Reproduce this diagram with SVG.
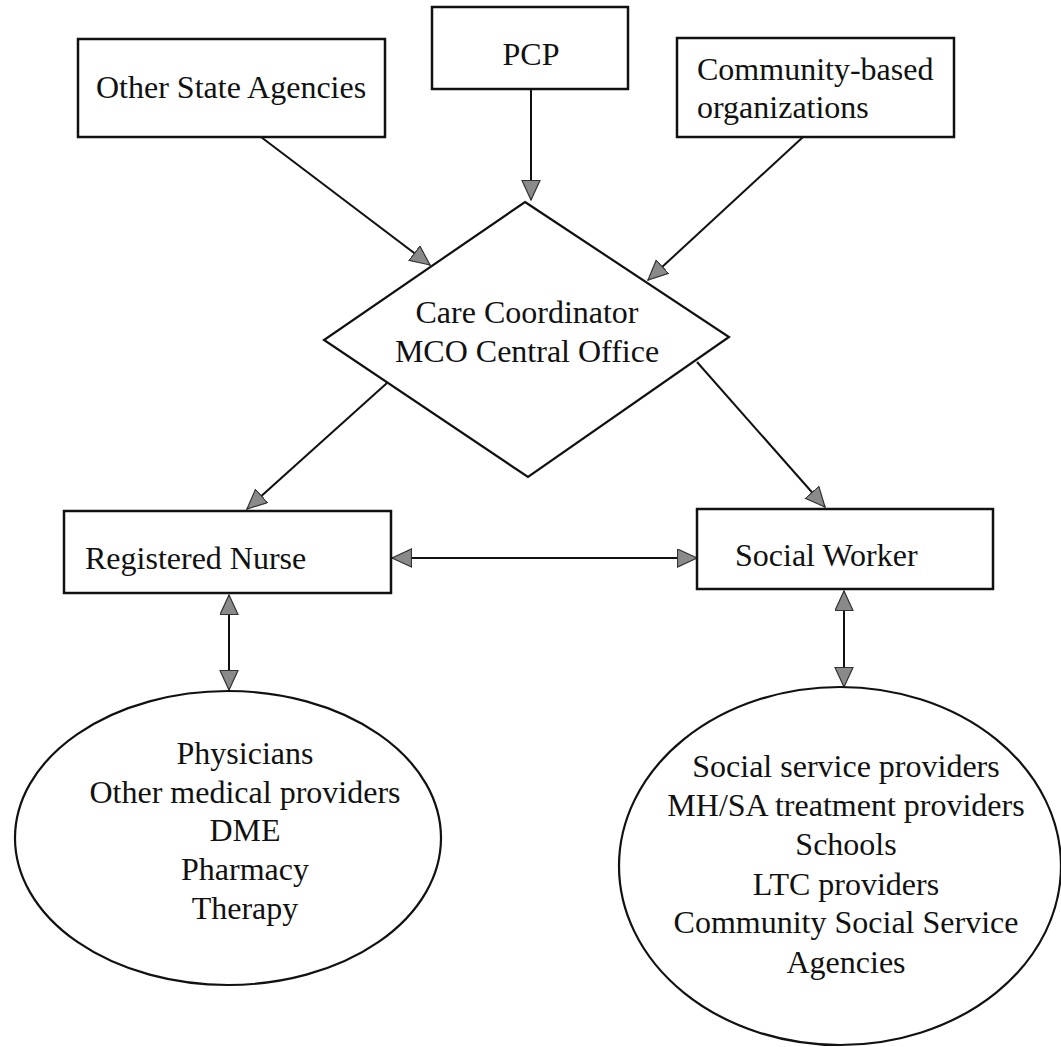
<svg xmlns="http://www.w3.org/2000/svg" width="1061" height="1047" viewBox="0 0 1061 1047">
<style>
.box{fill:#fff;stroke:#111;stroke-width:2.5}
.shape{fill:#fff;stroke:#111;stroke-width:2.2}
.t{font-family:"Liberation Serif","Times New Roman",serif;font-size:32px;fill:#111}
.c{text-anchor:middle}
.edge{stroke:#111;stroke-width:2;fill:none}
</style>
<defs>
<marker id="ah" markerUnits="userSpaceOnUse" markerWidth="22" markerHeight="21" refX="20" refY="9.5" orient="auto-start-reverse">
<path d="M0.5,0.5 L20,9.5 L0.5,18.5 z" fill="#8a8a8a" stroke="#333" stroke-width="1.2"/>
</marker>
</defs>
<rect width="1061" height="1047" fill="#fff"/>
<g id="connectors">
<line class="edge" x1="261" y1="137" x2="430" y2="265" marker-end="url(#ah)"/>
<line class="edge" x1="531" y1="89" x2="531" y2="200" marker-end="url(#ah)"/>
<line class="edge" x1="803" y1="137" x2="648" y2="280" marker-end="url(#ah)"/>
<line class="edge" x1="387" y1="383" x2="247" y2="509" marker-end="url(#ah)"/>
<line class="edge" x1="697" y1="362" x2="825" y2="507" marker-end="url(#ah)"/>
<line class="edge" x1="392" y1="558" x2="697" y2="558" marker-start="url(#ah)" marker-end="url(#ah)"/>
<line class="edge" x1="229" y1="595" x2="229" y2="690" marker-start="url(#ah)" marker-end="url(#ah)"/>
<line class="edge" x1="844" y1="591" x2="844" y2="687" marker-start="url(#ah)" marker-end="url(#ah)"/>
</g>
<g id="other-state-agencies">
<rect class="box" x="78" y="39" width="307" height="98"/>
<text class="t" x="96" y="98">Other State Agencies</text>
</g>
<g id="pcp">
<rect class="box" x="432" y="7" width="196" height="82"/>
<text class="t c" x="531" y="65">PCP</text>
</g>
<g id="community-based">
<rect class="box" x="677" y="38" width="277" height="99"/>
<text class="t" x="697" y="80">Community-based</text>
<text class="t" x="697" y="118">organizations</text>
</g>
<g id="care-coordinator">
<polygon class="shape" points="525,202 729,337 528,477 324,340"/>
<text class="t c" x="527" y="323">Care Coordinator</text>
<text class="t c" x="527" y="362">MCO Central Office</text>
</g>
<g id="registered-nurse">
<rect class="box" x="64" y="511" width="327" height="82"/>
<text class="t" x="85" y="569">Registered Nurse</text>
</g>
<g id="social-worker">
<rect class="box" x="697" y="509" width="296" height="80"/>
<text class="t" x="735" y="566">Social Worker</text>
</g>
<g id="medical-providers">
<ellipse class="shape" cx="228" cy="838" rx="213" ry="147"/>
<text class="t c" x="245" y="764">Physicians</text>
<text class="t c" x="245" y="803">Other medical providers</text>
<text class="t c" x="245" y="841">DME</text>
<text class="t c" x="245" y="880">Pharmacy</text>
<text class="t c" x="245" y="919">Therapy</text>
</g>
<g id="social-providers">
<ellipse class="shape" cx="840" cy="866" rx="221" ry="179"/>
<text class="t c" x="846" y="777">Social service providers</text>
<text class="t c" x="846" y="816">MH/SA treatment providers</text>
<text class="t c" x="846" y="855">Schools</text>
<text class="t c" x="846" y="895">LTC providers</text>
<text class="t c" x="846" y="933">Community Social Service</text>
<text class="t c" x="846" y="973">Agencies</text>
</g>
</svg>
